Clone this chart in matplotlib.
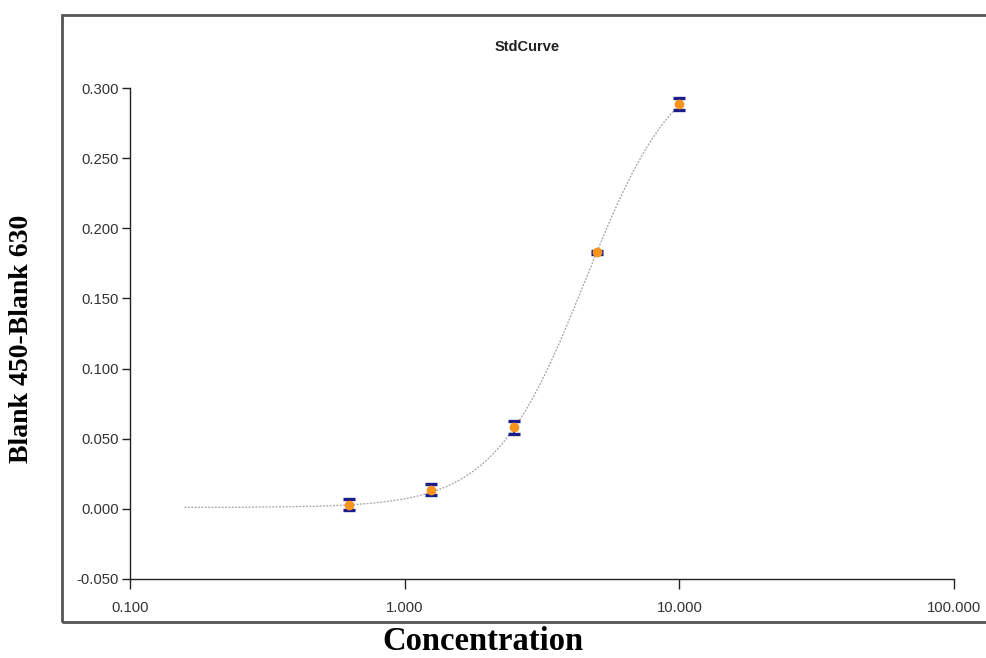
import numpy as np
import matplotlib.pyplot as plt
from matplotlib.patches import Rectangle
from matplotlib.ticker import FixedLocator, NullLocator

# standard concentrations and mean OD readings
conc = [0.625, 1.25, 2.5, 5.0, 10.0]
od_mean = [0.0030, 0.0136, 0.0580, 0.1830, 0.2886]
od_err = [0.0040, 0.0040, 0.0045, 0.0010, 0.0040]

# 4PL fit parameters of the standard curve
fit_bottom = 0.001
fit_top = 0.325
fit_ec50 = 4.55
fit_hill = 2.6
fit_range = (0.158, 10.0)

x_ticks = [0.1, 1.0, 10.0, 100.0]
x_ticklabels = ['0.100', '1.000', '10.000', '100.000']
y_ticks = [-0.05, 0.0, 0.05, 0.10, 0.15, 0.20, 0.25, 0.30]
y_ticklabels = ['-0.050', '0.000', '0.050', '0.100', '0.150', '0.200', '0.250', '0.300']


def four_pl(x):
    return fit_top + (fit_bottom - fit_top) / (1 + (x / fit_ec50) ** fit_hill)


W, H = 986, 658
fig = plt.figure(figsize=(W / 100, H / 100), dpi=100)
fig.patch.set_facecolor('white')

# outer frame around the plot panel
frame = Rectangle((62 / W, 1 - 622 / H), (W + 20 - 62) / W, (622 - 15) / H,
                  transform=fig.transFigure, fill=False, edgecolor='#555555',
                  linewidth=2, clip_on=False)
fig.patches.append(frame)

ax = fig.add_axes([130 / W, 1 - 579 / H, (954 - 130) / W, (579 - 88) / H])
ax.set_xscale('log')
ax.set_xlim(0.1, 100)
ax.set_ylim(-0.05, 0.30)

xs = np.logspace(np.log10(fit_range[0]), np.log10(fit_range[1]), 300)
ax.plot(xs, four_pl(xs), color='#a0a0a0', linewidth=0.9, linestyle=(0, (1.5, 1.2)), zorder=1)

ax.errorbar(conc, od_mean, yerr=od_err, fmt='none', ecolor='#1c1c8a',
            elinewidth=1.6, capsize=4.5, capthick=2.4, zorder=2)
ax.plot(conc, od_mean, 'o', color='#f7941d', markersize=6,
        markeredgecolor='#f7941d', zorder=3)

for s in ['top', 'right']:
    ax.spines[s].set_visible(False)
for s in ['left', 'bottom']:
    ax.spines[s].set_linewidth(1.0)
    ax.spines[s].set_color('#222222')

ax.xaxis.set_major_locator(FixedLocator(x_ticks))
ax.xaxis.set_minor_locator(NullLocator())
ax.set_xticklabels(x_ticklabels)
ax.set_yticks(y_ticks)
ax.set_yticklabels(y_ticklabels)
ax.tick_params(direction='out', width=1, color='#222222',
               labelsize=10.7, labelcolor='#333333')
ax.tick_params(axis='x', length=7, pad=9)
ax.tick_params(axis='y', length=6, pad=2)
for lab in ax.get_xticklabels() + ax.get_yticklabels():
    lab.set_fontfamily('Liberation Sans')

fig.text(527 / W, 1 - 47 / H, 'StdCurve', ha='center', va='center',
         fontsize=10.5, fontweight='bold', family='Liberation Sans', color='#222222')

fig.text(483 / W, 1 - 642 / H, 'Concentration', ha='center', va='center',
         fontsize=23.5, fontweight='bold', family='Liberation Serif')
fig.text(22 / W, 1 - 339 / H, 'Blank 450-Blank 630', ha='center', va='center',
         rotation=90, fontsize=20, fontweight='bold', family='Liberation Serif')

fig.savefig('out.png', dpi=100, facecolor='white')
